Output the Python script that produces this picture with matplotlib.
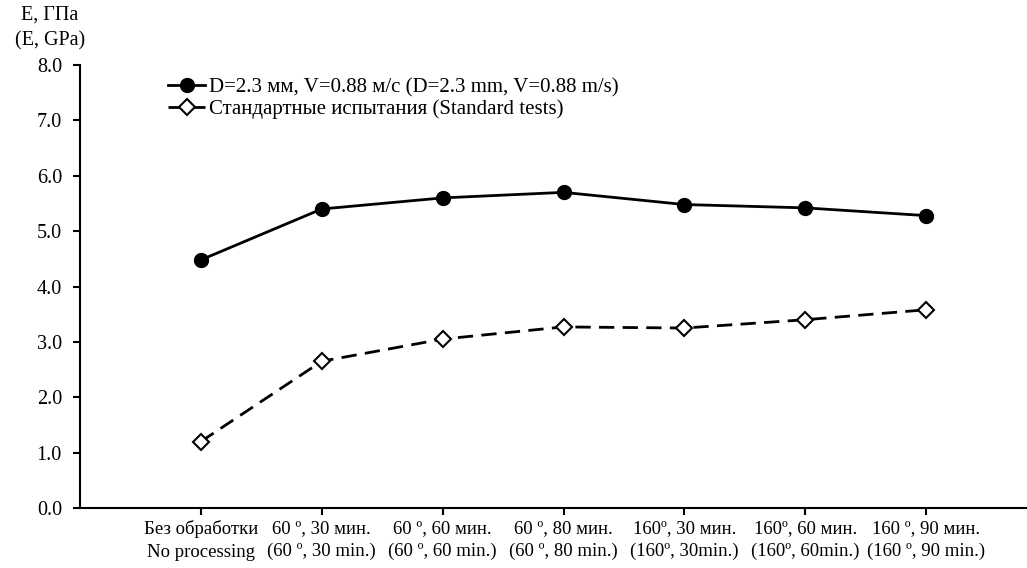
import matplotlib.pyplot as plt
import numpy as np

plt.rcParams['font.family'] = ['Liberation Serif', 'DejaVu Serif']

categories = [
    "Без обработки\nNo processing",
    "60 º, 30 мин.\n(60 º, 30 min.)",
    "60 º, 60 мин.\n(60 º, 60 min.)",
    "60 º, 80 мин.\n(60 º, 80 min.)",
    "160º, 30 мин.\n(160º, 30min.)",
    "160º, 60 мин.\n(160º, 60min.)",
    "160 º, 90 мин.\n(160 º, 90 min.)",
]
impact = [4.48, 5.40, 5.60, 5.70, 5.48, 5.42, 5.28]
standard = [1.20, 2.65, 3.05, 3.27, 3.25, 3.40, 3.58]

FS = 14.5

fig = plt.figure(figsize=(10.27, 5.68), dpi=100)
ax = fig.add_axes([80 / 1027, 60 / 568, (1047 - 80) / 1027, (508 - 65) / 568])

x = np.arange(len(categories))
ax.plot(x, impact, "k-", marker="o", markersize=10, linewidth=2,
        label="D=2.3 мм, V=0.88 м/с (D=2.3 mm, V=0.88 m/s)")
ax.plot(x, standard, color="black", linestyle=(0, (5.5, 3)), linewidth=2,
        marker="D", markersize=8, markerfacecolor="white", markeredgewidth=1.5,
        label="Стандартные испытания (Standard tests)")

ax.set_xlim(-1, 7)
ax.set_ylim(0, 8)
yt = np.arange(0, 8.1, 1.0)
ax.set_yticks(yt)
ax.set_yticklabels([f"{v:.1f}" for v in yt])
ax.set_xticks(x)
ax.set_xticklabels(categories, linespacing=1.4)
ax.tick_params(axis="both", labelsize=FS, direction="out", length=5, width=1.5)
ax.tick_params(axis="x", labelsize=13.5, pad=4)
ax.tick_params(axis="y", pad=8)

for side in ["top", "right"]:
    ax.spines[side].set_visible(False)
for side in ["left", "bottom"]:
    ax.spines[side].set_linewidth(1.5)

fig.text(50 / 1027, 1 - 15 / 568, "E, ГПа", ha="center", va="center", fontsize=FS)
fig.text(50 / 1027, 1 - 41 / 568, "(E, GPa)", ha="center", va="center", fontsize=FS)

ax.legend(loc="upper left", bbox_to_anchor=(0.078, 1.0), frameon=False,
          fontsize=15, handlelength=1.8, handletextpad=0.15, labelspacing=0.1,
          borderaxespad=0.2)

fig.savefig("out.png", dpi=100)
